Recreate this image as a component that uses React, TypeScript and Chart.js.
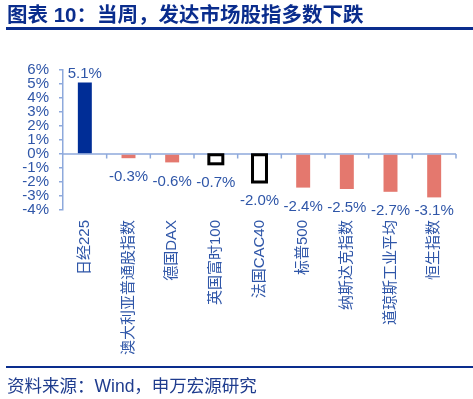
import React, { useEffect, useRef } from "react";
import { Chart, registerables } from "chart.js";

Chart.register(...registerables);

const categories = [
  "日经225",
  "澳大利亚普通股指数",
  "德国DAX",
  "英国富时100",
  "法国CAC40",
  "标普500",
  "纳斯达克指数",
  "道琼斯工业平均",
  "恒生指数",
];
const values = [5.1, -0.3, -0.6, -0.7, -2.0, -2.4, -2.5, -2.7, -3.1];
const outlined = [false, false, false, true, true, false, false, false, false];
const yMin = -4;
const yMax = 6;
const yStep = 1;

const TITLE = "图表 10：当周，发达市场股指多数下跌";
const SOURCE = "资料来源：Wind，申万宏源研究";

const BLUE = "#002d96";
const SALMON = "#e4786e";
const AXIS = "#8ea9dc";
const TEXT = "#2f56a8";
const DARK = "#0a2d8d";
const FONT = '"Liberation Sans", "Noto Sans CJK SC", sans-serif';

const overlay = {
  id: "overlay",
  beforeDatasetsDraw(chart: any) {
    const ctx = chart.ctx;
    const ys = chart.scales.y;
    const { left, right } = chart.chartArea;
    const y0 = ys.getPixelForValue(0);
    ctx.save();
    ctx.strokeStyle = AXIS;
    ctx.lineWidth = 1.5;
    ctx.beginPath();
    ctx.moveTo(left, y0);
    ctx.lineTo(right, y0);
    const n = categories.length;
    for (let k = 1; k <= n; k++) {
      const bx = left + (k * (right - left)) / n;
      ctx.moveTo(bx, y0);
      ctx.lineTo(bx, y0 + 4.5);
    }
    ctx.stroke();
    ctx.restore();
  },
  afterDatasetsDraw(chart: any) {
    const ctx = chart.ctx;
    const ys = chart.scales.y;
    const meta = chart.getDatasetMeta(0);
    ctx.save();
    meta.data.forEach((el: any, i: number) => {
      if (!outlined[i]) return;
      const p = el.getProps(["x", "y", "base", "width"], true);
      ctx.strokeStyle = "#000";
      ctx.lineWidth = 3;
      ctx.strokeRect(p.x - p.width / 2, Math.min(p.y, p.base), p.width, Math.abs(p.base - p.y));
    });
    ctx.font = `15px ${FONT}`;
    ctx.fillStyle = TEXT;
    ctx.textAlign = "center";
    ctx.textBaseline = "middle";
    values.forEach((v, i) => {
      const p = meta.data[i].getProps(["x", "y"], true);
      const ly = v >= 0 ? p.y - 9 : Math.min(p.y + 19, ys.bottom + 1);
      ctx.fillText(v.toFixed(1) + "%", p.x, ly);
    });
    ctx.restore();
  },
};

export default function App() {
  const ref = useRef<HTMLCanvasElement>(null);
  useEffect(() => {
    document.body.style.margin = "0";
    const chart = new Chart(ref.current as HTMLCanvasElement, {
      type: "bar",
      data: {
        labels: categories,
        datasets: [
          {
            data: values,
            backgroundColor: values.map((v, i) => (outlined[i] ? "#ffffff" : v >= 0 ? BLUE : SALMON)),
            borderWidth: 0,
            barPercentage: 0.32,
            categoryPercentage: 1,
          },
        ],
      },
      options: {
        animation: false,
        responsive: false,
        devicePixelRatio: 1,
        layout: { padding: { top: 70, right: 17, left: 0, bottom: 0 } },
        plugins: { legend: { display: false }, tooltip: { enabled: false } },
        scales: {
          x: {
            grid: { display: false, drawTicks: false },
            border: { display: false },
            ticks: {
              autoSkip: false,
              maxRotation: 90,
              minRotation: 90,
              padding: 10,
              color: TEXT,
              font: { size: 15, family: FONT },
            },
            afterFit: (s: any) => {
              s.height = 189;
            },
          },
          y: {
            min: yMin,
            max: yMax,
            ticks: {
              stepSize: yStep,
              autoSkip: false,
              padding: 10,
              color: TEXT,
              font: { size: 15, family: FONT, lineHeight: 1 },
              callback: (v: any) => `${v}%`,
            },
            grid: { drawOnChartArea: false, color: AXIS, tickLength: 4, lineWidth: 1.5 },
            border: { display: true, color: AXIS, width: 1.5 },
            afterFit: (s: any) => {
              s.width = 63;
            },
          },
        },
      },
      plugins: [overlay],
    });
    return () => chart.destroy();
  }, []);

  return (
    <div style={{ position: "relative", width: 473, height: 399, background: "#fff", overflow: "hidden" }}>
      <canvas ref={ref} width={473} height={399} style={{ position: "absolute", left: 0, top: 0 }} />
      <div
        style={{
          position: "absolute",
          left: 7,
          top: 4,
          fontFamily: FONT,
          fontWeight: "bold",
          fontSize: 20.5,
          lineHeight: "22px",
          color: DARK,
          whiteSpace: "nowrap",
        }}
      >
        {TITLE}
      </div>
      <div style={{ position: "absolute", left: 6, top: 27, width: 467, height: 2.5, background: DARK }} />
      <div style={{ position: "absolute", left: 6, top: 365.5, width: 467, height: 2.5, background: DARK }} />
      <div
        style={{
          position: "absolute",
          left: 7,
          top: 376,
          fontFamily: FONT,
          fontSize: 17.5,
          lineHeight: "20px",
          color: "#1f3c8e",
          whiteSpace: "nowrap",
        }}
      >
        {SOURCE}
      </div>
    </div>
  );
}
